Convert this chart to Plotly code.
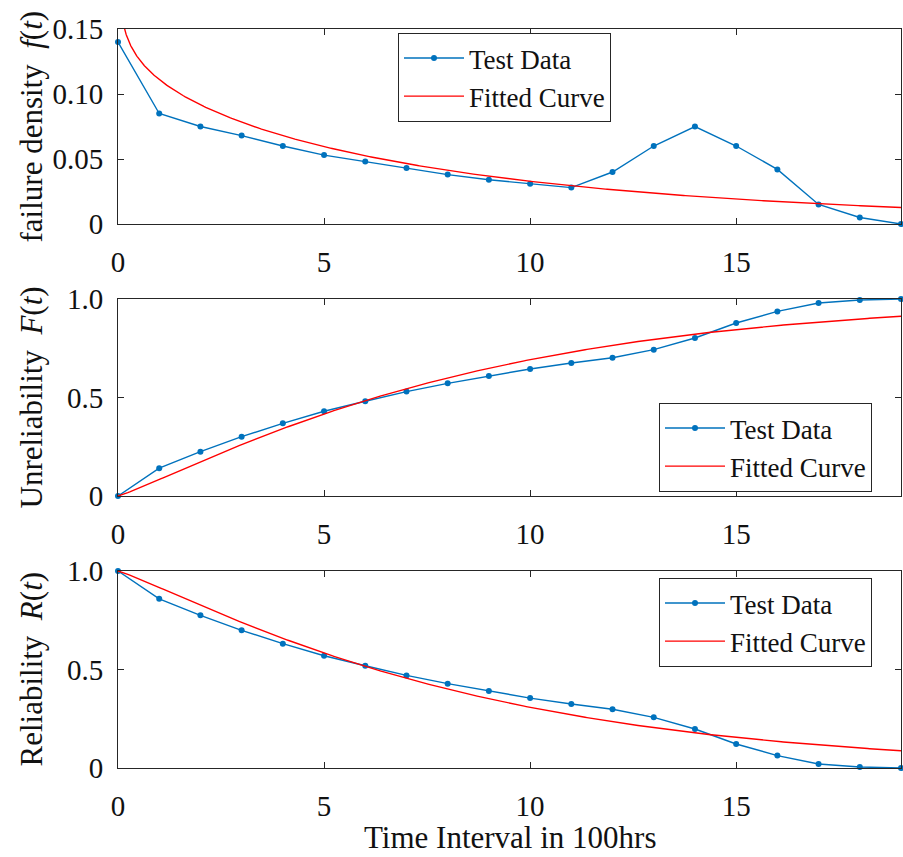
import numpy as np
import plotly.graph_objects as go
from plotly.subplots import make_subplots

# ---- data ----
t_data = list(range(20))
f_data = [0.140, 0.085, 0.075, 0.068, 0.060, 0.053, 0.048, 0.043, 0.038, 0.034,
          0.031, 0.028, 0.040, 0.060, 0.075, 0.060, 0.042, 0.015, 0.005, 0.000]
F_data = [0.000, 0.141, 0.225, 0.301, 0.369, 0.430, 0.481, 0.530, 0.572, 0.609,
          0.645, 0.675, 0.702, 0.743, 0.802, 0.878, 0.937, 0.980, 0.995, 1.000]
R_data = [1.000, 0.859, 0.775, 0.699, 0.631, 0.570, 0.519, 0.470, 0.428, 0.391,
          0.355, 0.325, 0.298, 0.257, 0.198, 0.122, 0.063, 0.020, 0.005, 0.000]

# fitted Weibull parameters (estimated from the curves)
beta_pdf, eta_pdf = 0.90, 8.72
beta_cdf, eta_cdf = 1.13, 8.65

x_ticks = [0, 5, 10, 15]
y1_ticks = [0, 0.05, 0.10, 0.15]
y1_labels = ["0", "0.05", "0.10", "0.15"]
y23_ticks = [0, 0.5, 1.0]
y23_labels = ["0", "0.5", "1.0"]

ylabels = ["failure density  <i>f</i>(<i>t</i>)",
           "Unreliability  <i>F</i>(<i>t</i>)",
           "Reliability  <i>R</i>(<i>t</i>)"]
xlabel = "Time Interval in 100hrs"

# fitted curves
tf = np.concatenate([np.geomspace(0.005, 1, 200), np.linspace(1, 19, 400)[1:]])
f_fit = (beta_pdf / eta_pdf) * (tf / eta_pdf) ** (beta_pdf - 1) * np.exp(-(tf / eta_pdf) ** beta_pdf)
tc = np.linspace(0, 19, 400)
F_fit = 1 - np.exp(-(tc / eta_cdf) ** beta_cdf)
R_fit = np.exp(-(tc / eta_cdf) ** beta_cdf)

BLUE = "#0072BD"
RED = "#FF0000"
AX = "#262626"
FONT = "Liberation Serif"
TXT = "#111111"

W, H = 903, 857
ml, mr, mt, mb = 118, 2, 29, 89
pw, ph = W - ml - mr, H - mt - mb

def py(pix):  # pixel y (from top) -> paper y
    return (H - mb - pix) / ph

def px(pix):
    return (pix - ml) / pw

fig = make_subplots(rows=3, cols=1)

series = [(f_data, tf, f_fit, "legend"), (F_data, tc, F_fit, "legend2"), (R_data, tc, R_fit, "legend3")]
for i, (yd, tfit, yfit, lg) in enumerate(series, start=1):
    fig.add_trace(go.Scatter(x=t_data, y=yd, mode="lines+markers", name="Test Data",
                             line=dict(color=BLUE, width=1.4),
                             marker=dict(color=BLUE, size=6), cliponaxis=False,
                             legend=lg), row=i, col=1)
    fig.add_trace(go.Scatter(x=tfit, y=yfit, mode="lines", name="Fitted Curve",
                             line=dict(color=RED, width=1.4), legend=lg), row=i, col=1)

tickfont = dict(family=FONT, size=29, color=TXT)
doms = [(py(224), py(29)), (py(496), py(299)), (py(768), py(571))]
for i in range(3):
    xa = "xaxis" if i == 0 else f"xaxis{i+1}"
    ya = "yaxis" if i == 0 else f"yaxis{i+1}"
    fig.layout[ya].domain = list(doms[i])
    fig.layout[xa].update(range=[0, 19], tickvals=x_ticks, ticks="inside", ticklen=6,
                          tickcolor=AX, showline=True, linecolor=AX, linewidth=1,
                          mirror="ticks", showgrid=False, zeroline=False,
                          tickfont=tickfont, ticklabelstandoff=12)
    if i == 0:
        fig.layout[ya].update(range=[0, 0.15], tickvals=y1_ticks, ticktext=y1_labels)
    else:
        fig.layout[ya].update(range=[0, 1.0], tickvals=y23_ticks, ticktext=y23_labels)
    fig.layout[ya].update(ticks="inside", ticklen=6, tickcolor=AX, showline=True,
                          linecolor=AX, linewidth=1, mirror="ticks", showgrid=False,
                          zeroline=False, tickfont=tickfont, ticklabelstandoff=8)
    cy = (doms[i][0] + doms[i][1]) / 2
    fig.add_annotation(text=ylabels[i], xref="paper", yref="paper", x=px(31), y=cy,
                       textangle=-90, showarrow=False, xanchor="center", yanchor="middle",
                       font=dict(family=FONT, size=31, color=TXT))

fig.add_annotation(text=xlabel, xref="paper", yref="paper", x=0.5, y=py(837),
                   showarrow=False, xanchor="center", yanchor="middle",
                   font=dict(family=FONT, size=31, color=TXT))

leg_common = dict(bgcolor="white", bordercolor=AX, borderwidth=1,
                  font=dict(family=FONT, size=27, color=TXT),
                  xanchor="left", yanchor="top", itemwidth=60, tracegroupgap=0)
fig.update_layout(
    legend=dict(x=px(398), y=py(33), **leg_common),
    legend2=dict(x=px(659), y=py(403), **leg_common),
    legend3=dict(x=px(659), y=py(578), **leg_common),
)

fig.update_layout(width=W, height=H, margin=dict(l=ml, r=mr, t=mt, b=mb),
                  plot_bgcolor="white", paper_bgcolor="white", showlegend=True,
                  font=dict(family=FONT, color=TXT))

fig.write_html("out.html")
